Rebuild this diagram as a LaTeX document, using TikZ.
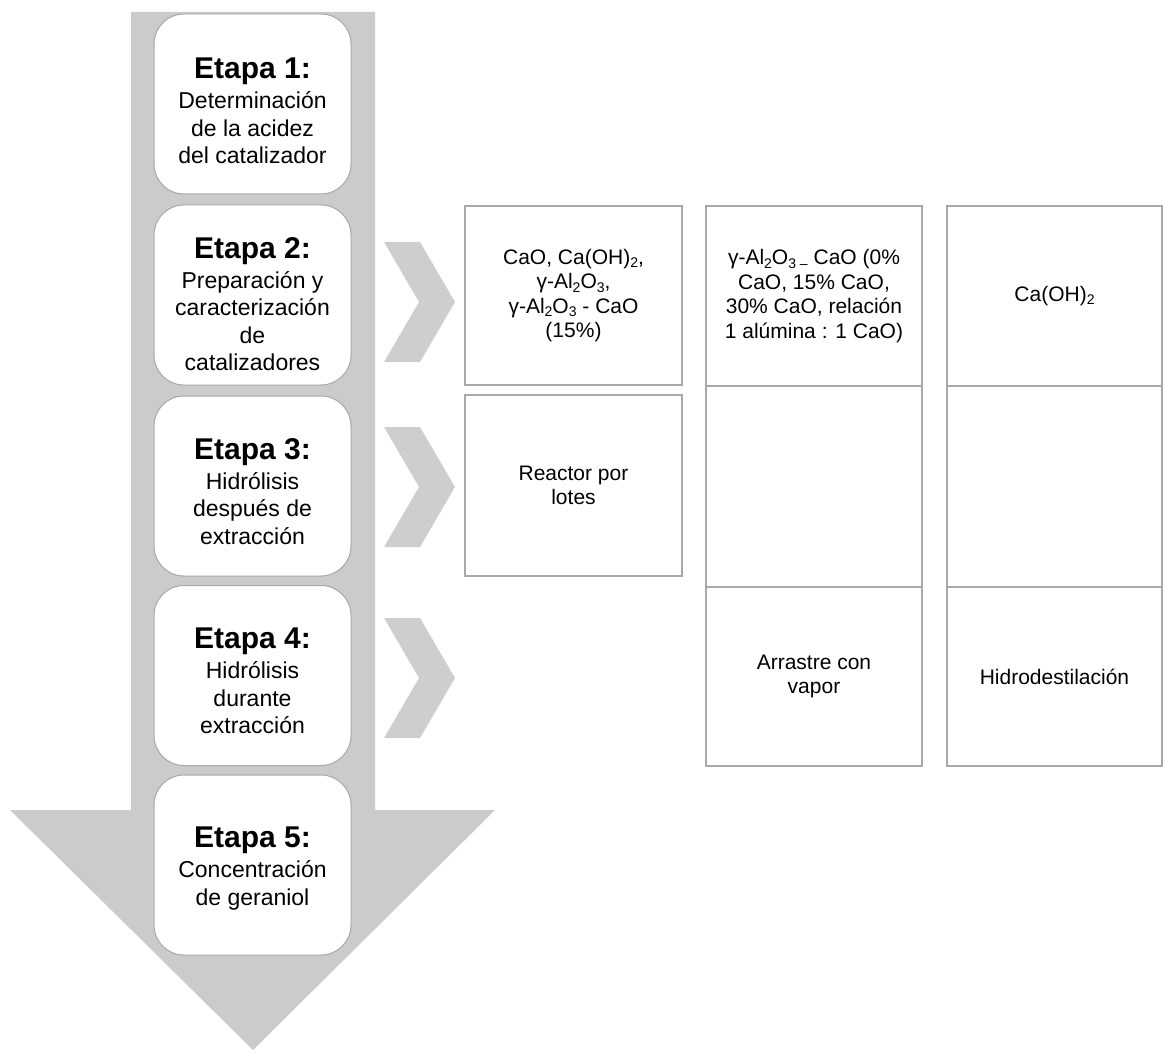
\documentclass[tikz,border=0pt]{standalone}
\usepackage{fontspec}
\setmainfont{Liberation Sans}
\definecolor{arrowgray}{HTML}{CBCBCB}
\definecolor{chevgray}{HTML}{CFCECF}
\definecolor{linegray}{HTML}{A8A8A8}
\newcommand{\sbs}[1]{\raisebox{-3.5pt}{\fontsize{14}{14}\selectfont #1}}
\begin{document}
\begin{tikzpicture}[x=1pt,y=-1pt,
  stagebox/.style={draw=linegray, line width=1pt, fill=white, rounded corners=30pt,
    minimum width=197pt, minimum height=180pt, inner sep=0pt},
  stagetext/.style={anchor=north, align=center, inner sep=0pt,
    font=\fontsize{23}{27.5}\selectfont},
  cell/.style={draw=linegray, line width=1.5pt, inner sep=0pt, align=center,
    font=\fontsize{21}{24.5}\selectfont},
  chev/.pic={\fill[chevgray] (0,-60) -- (36,-60) -- (71,0) -- (36,60) -- (0,60) -- (35,0) -- cycle;}
]
\useasboundingbox (0,0) rectangle (1163,1051);
\newcommand{\etapa}[1]{{\fontsize{30}{30}\selectfont\bfseries Etapa #1:}\\[2.5pt]}
% big arrow
\fill[arrowgray] (131,12) -- (375,12) -- (375,810) -- (495,810) -- (253,1050) -- (10,810) -- (131,810) -- cycle;
% stage boxes
\node[stagebox] (s1) at (252.5,104) {};
\node[stagebox] (s2) at (252.5,295) {};
\node[stagebox] (s3) at (252.5,486) {};
\node[stagebox] (s4) at (252.5,675.5) {};
\node[stagebox] (s5) at (252.5,865) {};
\node[stagetext] (t1) at (252.5,58) {\etapa{1}Determinación\\de la acidez\\del catalizador};
\node[stagetext] (t2) at (252.5,237) {\etapa{2}Preparación y\\caracterización\\de\\catalizadores};
\node[stagetext] (t3) at (252.5,438) {\etapa{3}Hidrólisis\\después de\\extracción};
\node[stagetext] (t4) at (252.5,628) {\etapa{4}Hidrólisis\\durante\\extracción};
\node[stagetext] (t5) at (252.5,827) {\etapa{5}Concentración\\de geraniol};
% chevrons
\pic at (384,302) {chev};
\pic at (384,487) {chev};
\pic at (384,678) {chev};
% column 1
\node[cell, minimum width=217pt, minimum height=179pt] (a1) at (573.5,295.5)
  {CaO, Ca(OH)\sbs{2},\\γ-Al\sbs{2}O\sbs{3},\\γ-Al\sbs{2}O\sbs{3} - CaO\\(15\%)};
\node[cell, minimum width=217pt, minimum height=181pt] (a2) at (573.5,485.5)
  {Reactor por\\lotes};
% column 2
\node[cell, minimum width=216pt, minimum height=180pt] (b1) at (814,296)
  {γ-Al\sbs{2}O\sbs{3 –} CaO (0\%\\CaO, 15\% CaO,\\30\% CaO, relación\\1 alúmina : 1 CaO)};
\node[cell, minimum width=216pt, minimum height=201pt] (b2) at (814,486.5) {};
\node[cell, minimum width=216pt, minimum height=179pt] (b3) at (814,676.5)
  {Arrastre con\\vapor};
% column 3
\node[cell, minimum width=215pt, minimum height=180pt] (c1) at (1054.5,296)
  {Ca(OH)\sbs{2}};
\node[cell, minimum width=215pt, minimum height=201pt] (c2) at (1054.5,486.5) {};
\node[cell, minimum width=215pt, minimum height=179pt] (c3) at (1054.5,676.5)
  {Hidrodestilación};
\end{tikzpicture}
\end{document}
